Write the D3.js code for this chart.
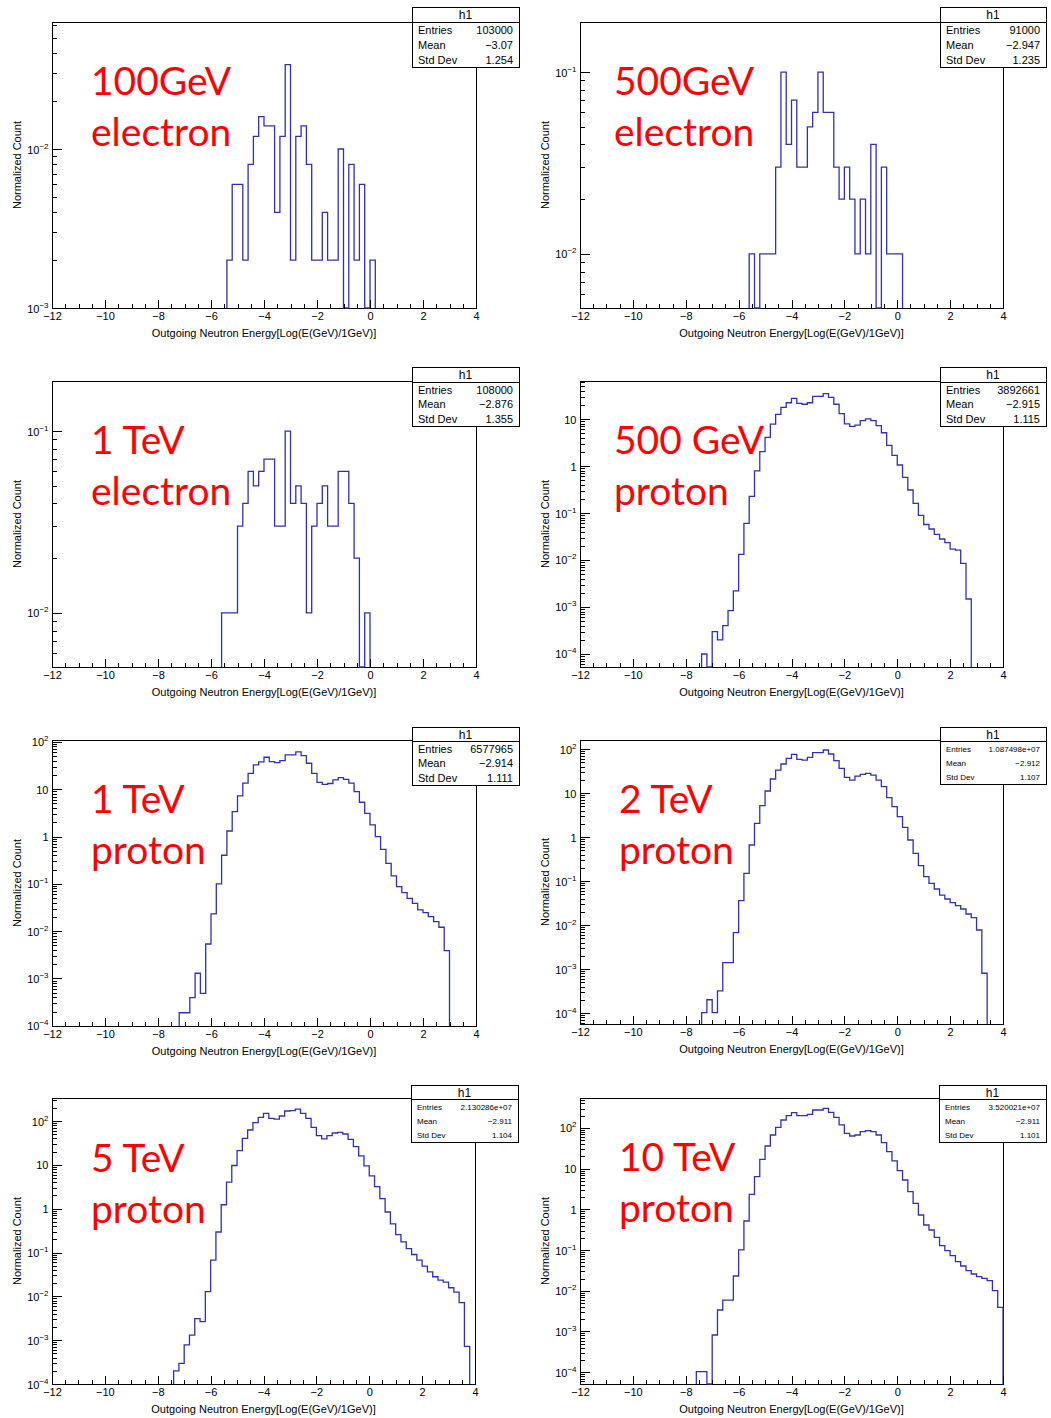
<!DOCTYPE html>
<html><head><meta charset="utf-8">
<script src="https://cdn.jsdelivr.net/npm/d3@7"></script>
<style>body{margin:0;background:#fff} svg{display:block}</style>
</head><body>
<svg id="c" width="1051" height="1418"></svg>
<script>
// ---------------- DATA ----------------
const binWidth = 0.2;
const xMin = -12, xMax = 4;
const xMajorTicks = [-12,-10,-8,-6,-4,-2,0,2,4];
const xTitle = "Outgoing Neutron Energy[Log(E(GeV)/1GeV)]";
const yTitle = "Normalized Count";
const statsTitle = "h1";
const statsNames = ["Entries","Mean","Std Dev"];

const labelLine1 = ["100GeV","500GeV","1 TeV","500 GeV","1 TeV","2 TeV","5 TeV","10 TeV"];
const labelLine2 = ["electron","electron","electron","proton","proton","proton","proton","proton"];
const statsEntries = ["103000","91000","108000","3892661","6577965","1.087498e+07","2.130286e+07","3.520021e+07"];
const statsMean = ["\u22123.07","\u22122.947","\u22122.876","\u22122.915","\u22122.914","\u22122.912","\u22122.911","\u22122.911"];
const statsStd = ["1.254","1.235","1.355","1.115","1.111","1.107","1.104","1.101"];

// bin contents (first bin low edge + consecutive 0.2-wide bins)
const e100Start = -5.4;
const e100Values = [0.002,0.006,0.006,0.002,0.008,0.012,0.016,0.014,0.014,0.004,0.012,0.034,0.002,0.012,0.014,0.008,0.002,0.002,0.004,0.002,0.002,0.010,0,0.008,0.002,0.006,0,0.002];

const e500Start = -5.6;
const e500Values = [0.01,0,0.01,0.01,0.01,0.03,0.10,0.04,0.07,0.03,0.03,0.05,0.06,0.10,0.06,0.06,0.03,0.02,0.03,0.02,0.01,0.02,0.01,0.04,0,0.03,0.01,0.01,0.01];

const e1000Start = -5.6;
const e1000Values = [0.01,0.01,0.01,0.03,0.04,0.06,0.05,0.06,0.07,0.07,0.03,0.03,0.10,0.04,0.05,0.04,0.01,0.03,0.04,0.05,0.03,0.03,0.06,0.06,0.04,0.02,0,0.01];

const p500Start = -7.4;
const p500Values = [1.0e-4,0,3.0e-4,2.0e-4,4.0e-4,8.4e-4,2.2e-3,0.0132,0.060,0.226,0.79,2.02,4.07,7.8,12.6,17.7,22.2,27.5,21.6,20.6,22.2,30.4,30.4,34.7,29.0,20.6,13.0,7.9,7.0,7.45,9.2,10.1,9.2,7.2,5.1,2.75,1.69,1.05,0.574,0.309,0.161,0.089,0.057,0.0457,0.0352,0.028,0.0234,0.0171,0.0163,0.0085,0.00148];

const p1000Start = -7.2;
const p1000Values = [1.89e-4,1.89e-4,3.94e-4,1.29e-3,4.85e-4,5.36e-3,0.0231,0.0996,0.402,1.31,3.37,7.21,13.4,21.7,32.6,37.7,47.4,38.4,36.6,40.3,53.1,53.1,61.4,51.4,35.4,21.7,14.0,12.7,13.2,15.7,17.6,16.2,13.4,8.91,5.3,3.1,1.76,0.995,0.537,0.272,0.147,0.0873,0.0652,0.0495,0.0388,0.0281,0.0247,0.0203,0.0159,0.0121,0.00387];

const p2000Start = -7.4;
const p2000Values = [1.02e-4,2.0e-4,1.02e-4,3.2e-4,1.39e-3,1.39e-3,6.7e-3,0.0357,0.149,0.658,2.04,5.15,11.1,20.8,33.3,45.6,61.4,75.7,58.2,56.2,64.6,82.6,82.6,94.9,77.0,54.3,36.4,22.7,19.7,24.3,26.5,28.0,25.6,19.7,13.9,7.84,4.9,2.9,1.66,0.855,0.426,0.223,0.126,0.0886,0.0658,0.048,0.039,0.0322,0.0275,0.0231,0.0178,0.0147,0.0077,8.0e-4];

const p5000Start = -7.4;
const p5000Values = [2.0e-4,2.95e-4,7.8e-4,1.3e-3,3.1e-3,2.65e-3,0.0128,0.0668,0.294,1.23,4.04,9.66,21.1,40.3,62.4,91.6,121,149,115,111,130,169,172,187,149,115,71.8,46.4,39.0,46.4,53.3,55.2,50.6,38.3,26.1,16.0,9.5,5.6,3.2,1.69,0.84,0.448,0.256,0.175,0.123,0.090,0.067,0.0489,0.0363,0.028,0.0235,0.0211,0.0157,0.0125,0.0072,7.2e-4];

const p10000Start = -7.6;
const p10000Values = [1.03e-4,1.03e-4,0,8.2e-4,3.37e-3,5.9e-3,5.9e-3,0.0231,0.1007,0.519,2.34,6.37,17.0,36.1,67.3,104,157,201,238,201,201,217,277,277,304,243,183,119,74.0,63.6,67.3,81.2,86.0,81.2,67.3,43.6,26.2,15.5,8.95,5.28,2.73,1.41,0.728,0.414,0.312,0.206,0.129,0.0968,0.073,0.052,0.0407,0.0313,0.0259,0.0222,0.0202,0.0177,0.0101,0.0039];

const histStarts = [e100Start,e500Start,e1000Start,p500Start,p1000Start,p2000Start,p5000Start,p10000Start];
const histValues = [e100Values,e500Values,e1000Values,p500Values,p1000Values,p2000Values,p5000Values,p10000Values];

// ---------------- LAYOUT ----------------
const frames = [
 {x0:52, x1:476, y0:22,  y1:308,  logLo:-3,     logHi:-1.201, box:[412,7,519,67,22],        lab:[91,95,146],   sf:11},
 {x0:580,x1:1003,y0:22,  y1:308,  logLo:-2.297, logHi:-0.725, box:[940,7,1046,67,22],       lab:[614,95,146],  sf:11},
 {x0:52, x1:476, y0:381, y1:667,  logLo:-2.297, logHi:-0.725, box:[412,367,519,426,382],    lab:[91,454,505],  sf:11},
 {x0:580,x1:1003,y0:381, y1:667,  logLo:-4.277, logHi:1.809,  box:[940,367,1046,426,382],   lab:[614,454,505], sf:11},
 {x0:52, x1:476, y0:740, y1:1026, logLo:-4.004, logHi:2.04,   box:[412,727,519,785,741],    lab:[91,813,864],  sf:11},
 {x0:580,x1:1003,y0:740, y1:1024, logLo:-4.25,  logHi:2.205,  box:[940,727,1046,784,741],   lab:[619,813,864], sf:8},
 {x0:52, x1:475, y0:1098,y1:1384, logLo:-4.0,   logHi:2.525,  box:[411,1085,518,1142,1099], lab:[91,1172,1223],sf:8},
 {x0:580,x1:1003,y0:1098,y1:1384, logLo:-4.29,  logHi:2.737,  box:[939,1085,1046,1142,1099],lab:[619,1171,1222],sf:8}
];

const FONT = "'Liberation Sans', Arial, Helvetica, sans-serif";
const HIST_COLOR = "#3030b4";
const svg = d3.select("#c");

frames.forEach((f, i) => {
  const g = svg.append("g");
  const x = d3.scaleLinear().domain([xMin, xMax]).range([f.x0, f.x1]);
  const lo = Math.pow(10, f.logLo), hi = Math.pow(10, f.logHi);
  const y = d3.scaleLog().domain([lo, hi]).range([f.y1, f.y0]);

  // frame
  g.append("rect").attr("x", f.x0 + 0.5).attr("y", f.y0 + 0.5)
    .attr("width", f.x1 - f.x0).attr("height", f.y1 - f.y0)
    .attr("fill", "none").attr("stroke", "#000").attr("stroke-width", 1)
    .attr("shape-rendering", "crispEdges");

  // histogram outline
  const start = histStarts[i], vals = histValues[i];
  const yv = v => (v > lo ? y(Math.min(v, hi)) : f.y1);
  const pts = [[x(start), f.y1]];
  vals.forEach((v, k) => {
    const a = start + k * binWidth, b = start + (k + 1) * binWidth;
    pts.push([x(a), yv(v)], [x(b), yv(v)]);
  });
  pts.push([x(start + vals.length * binWidth), f.y1]);
  g.append("path").attr("d", d3.line()(pts)).attr("fill", "none")
    .attr("stroke", HIST_COLOR).attr("stroke-width", 1.3).attr("stroke-linejoin", "miter");

  // x axis: major + minor ticks
  const xMinor = d3.range(xMin, xMax + 0.001, 0.5).filter(v => Math.abs(v % 2) > 0.01);
  const xa = g.append("g").attr("transform", `translate(0,${f.y1 + 0.5})`)
    .call(d3.axisBottom(x).tickValues(xMajorTicks).tickSize(-9).tickPadding(4));
  xa.select(".domain").remove();
  xa.selectAll("text").attr("font-family", FONT).attr("font-size", 11).attr("fill", "#000");
  const xm = g.append("g").attr("transform", `translate(0,${f.y1 + 0.5})`)
    .call(d3.axisBottom(x).tickValues(xMinor).tickSize(-4.5).tickFormat(""));
  xm.select(".domain").remove();

  // y axis (log): decades + 2..9 minors
  const kLo = Math.ceil(f.logLo - 1e-6), kHi = Math.floor(f.logHi + 1e-6);
  const majors = d3.range(kLo, kHi + 1).map(k => Math.pow(10, k));
  const minors = [];
  for (let k = Math.floor(f.logLo) ; k <= Math.floor(f.logHi); k++)
    for (let m = 2; m <= 9; m++) { const v = m * Math.pow(10, k); if (v > lo && v < hi) minors.push(v); }
  const ya = g.append("g").attr("transform", `translate(${f.x0 + 0.5},0)`)
    .call(d3.axisLeft(y).tickValues(majors).tickSize(-9).tickFormat(""));
  ya.select(".domain").remove();
  const ym = g.append("g").attr("transform", `translate(${f.x0 + 0.5},0)`)
    .call(d3.axisLeft(y).tickValues(minors).tickSize(-4.5).tickFormat(""));
  ym.select(".domain").remove();
  g.selectAll(".tick line").attr("stroke", "#000").attr("shape-rendering", "crispEdges");

  ya.selectAll(".tick").each(function(d) {
    const k = Math.round(Math.log10(d));
    const t = d3.select(this).select("text")
      .attr("x", -4).attr("dy", null).attr("y", 4)
      .attr("text-anchor", "end").attr("font-family", FONT).attr("font-size", 11).attr("fill", "#000");
    t.text(null);
    if (k === 0) t.append("tspan").text("1");
    else if (k === 1) t.append("tspan").text("10");
    else {
      t.append("tspan").text("10");
      t.append("tspan").attr("dy", -5).attr("font-size", 8).text(k < 0 ? "\u2212" + (-k) : String(k));
    }
  });

  // axis titles
  g.append("text").attr("x", (f.x0 + f.x1) / 2).attr("y", f.y1 + 29)
    .attr("text-anchor", "middle").attr("font-family", FONT).attr("font-size", 11).text(xTitle);
  g.append("text").attr("transform", `translate(${f.x0 - 31},${(f.y0 + f.y1) / 2}) rotate(-90)`)
    .attr("text-anchor", "middle").attr("font-family", FONT).attr("font-size", 11).text(yTitle);

  // red labels
  [labelLine1[i], labelLine2[i]].forEach((s, j) => {
    g.append("text").attr("x", f.lab[0]).attr("y", f.lab[1 + j])
      .attr("font-family", "Lato, 'Open Sans', sans-serif").attr("font-size", 39)
      .attr("fill", "#ff0000").text(s);
  });

  // stats box
  const [bl, bt, br, bb, bh] = f.box;
  const sb = g.append("g");
  sb.append("rect").attr("x", bl + 0.5).attr("y", bt + 0.5).attr("width", br - bl).attr("height", bb - bt)
    .attr("fill", "#fff").attr("stroke", "#000").attr("shape-rendering", "crispEdges");
  sb.append("line").attr("x1", bl).attr("x2", br).attr("y1", bh + 0.5).attr("y2", bh + 0.5)
    .attr("stroke", "#000").attr("shape-rendering", "crispEdges");
  sb.append("text").attr("x", (bl + br) / 2).attr("y", (bt + bh) / 2 + 4.5)
    .attr("text-anchor", "middle").attr("font-family", FONT).attr("font-size", 12).text(statsTitle);
  const rowH = (bb - bh) / 3;
  const vals3 = [statsEntries[i], statsMean[i], statsStd[i]];
  statsNames.forEach((n, r) => {
    const cy = bh + rowH * (r + 0.5) + f.sf * 0.36 + 0.5;
    sb.append("text").attr("x", bl + 6).attr("y", cy).attr("font-family", FONT)
      .attr("font-size", f.sf).text(n);
    sb.append("text").attr("x", br - 6).attr("y", cy).attr("text-anchor", "end")
      .attr("font-family", FONT).attr("font-size", f.sf).text(vals3[r]);
  });
});
</script>
</body></html>
